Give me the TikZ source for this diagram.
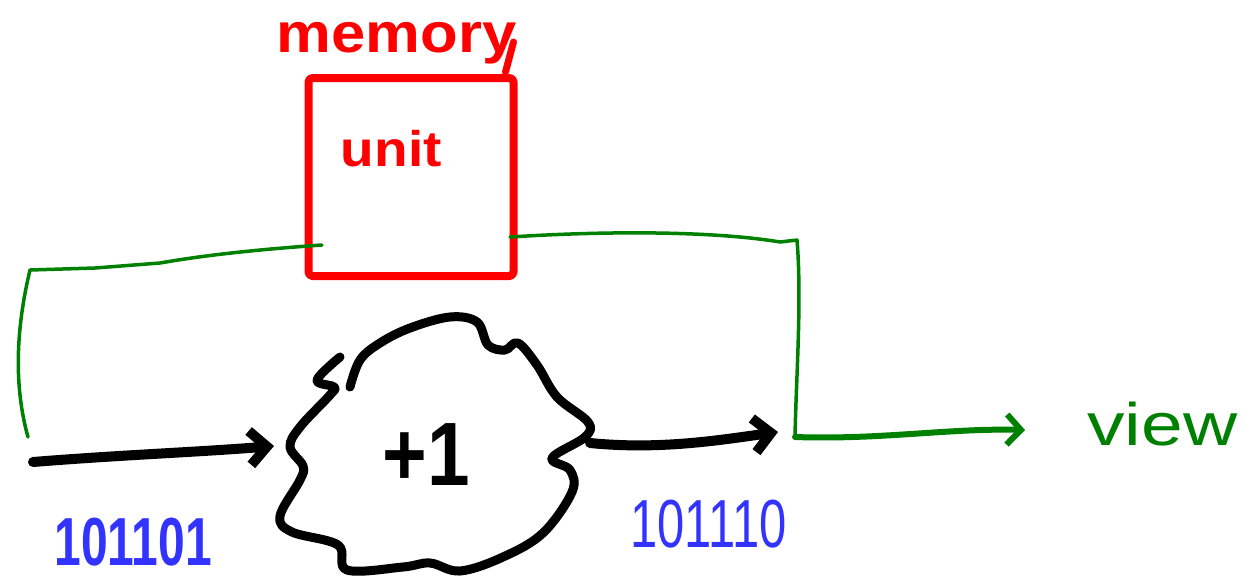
\documentclass[tikz,border=0pt]{standalone}
\usepackage{fontspec}
\setmainfont{Liberation Sans}
\usetikzlibrary{arrows.meta}
\definecolor{inkred}{RGB}{255,0,0}
\definecolor{inkgreen}{RGB}{0,128,0}
\definecolor{inkblue}{RGB}{51,51,255}

\begin{document}
\begin{tikzpicture}[x=1pt, y=-1pt, line cap=round, line join=round,
  wire/.style={inkgreen, line width=3.5pt},
  flow/.style={line width=10pt, -{Straight Barb[length=17pt, width=34pt]}},
  outflow/.style={inkgreen, line width=6pt, -{Straight Barb[length=14pt, width=30pt]}},
  bits/.style={inkblue, anchor=base west, xscale=0.72, transform shape,
    font=\fontsize{68}{68}\selectfont},
  memlabel/.style={inkred, anchor=base west, font=\fontsize{56}{56}\selectfont\bfseries}]
\useasboundingbox (0,0) rectangle (1245,579);

% memory unit
\node[draw=inkred, line width=8pt, rounded corners=4pt,
      minimum width=205pt, minimum height=198pt] (mem) at (411,177) {};
\node[memlabel, xscale=1.1, transform shape] (memtitle) at (273,52) {memory};
\node[memlabel, xscale=1.1, transform shape, font=\fontsize{50}{50}\selectfont\bfseries]
  (unitlbl) at (337,166) {unit};
\draw[inkred, line width=7pt] (mem.north east) ++(-12,-2) -- ++(8,-30);

% feedback wire around the memory unit
\coordinate (tapL) at (322,245);
\coordinate (tapR) at (510,237);
\coordinate (loopIn) at (28,437);
\coordinate (loopOut) at (795,437);
\coordinate (viewTip) at (1025,430);
\draw[wire] (tapL) .. controls (250,250) and (200,256) .. (160,263)
  -- (95,268) -- (30,270) .. controls (18,320) and (12,380) .. (loopIn);
\draw[wire] (tapR) .. controls (620,230) and (720,232) .. (780,242)
  -- (797,240) .. controls (802,300) and (796,380) .. (loopOut);
\draw[outflow] (loopOut) .. controls (880,440) and (950,428) .. (viewTip);
\node[inkgreen, anchor=base west, xscale=1.25, transform shape,
      font=\fontsize{60}{60}\selectfont] (viewlbl) at (1083,445) {view};

% the +1 adder
\draw[line width=9pt] plot[smooth, tension=0.6] coordinates {
  (350,387) (360,360) (380,343) (410,328) (450,317) (477,322) (488,345)
  (505,350) (518,343) (537,365) (557,397) (588,422) (585,437) (552,458)
  (570,470) (572,492) (543,533) (503,557) (460,571) (430,563) (403,567)
  (347,570) (338,545) (292,532) (280,516) (300,480) (303,466) (290,447)
  (300,427) (330,395) (334,387) (317,380) (340,357)};
\node[font=\fontsize{90}{90}\selectfont\bfseries, xscale=0.85, transform shape]
  (adder) at (426,455) {+1};
\coordinate (addIn) at (274,446);
\coordinate (addOut) at (590,443);
\coordinate (src) at (33,462);
\coordinate (sum) at (778,432);
\draw[flow] (src) .. controls (120,455) and (200,452) .. (addIn);
\draw[flow] (addOut) .. controls (660,450) and (720,440) .. (sum);

% bit patterns
\node[bits, font=\fontsize{68}{68}\selectfont\bfseries, xscale=0.98] (inbits) at (52,565) {101101};
\node[bits] (outbits) at (628,547) {101110};
\end{tikzpicture}
\end{document}
